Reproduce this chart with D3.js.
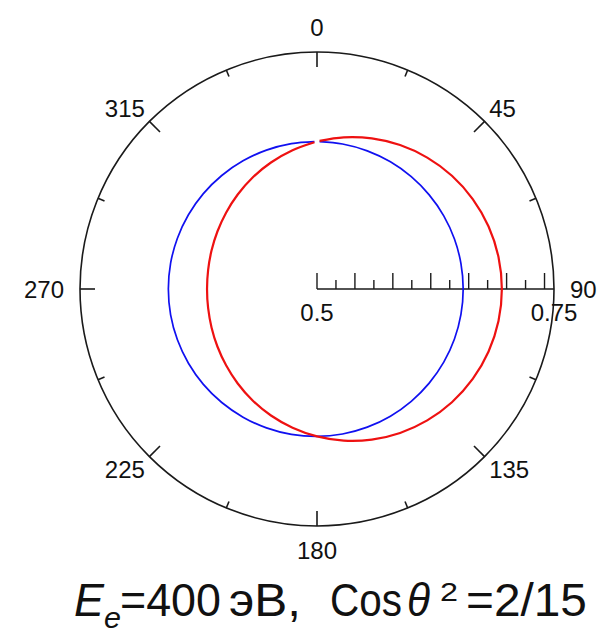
<!DOCTYPE html>
<html>
<head>
<meta charset="utf-8">
<script src="https://cdn.jsdelivr.net/npm/d3@7"></script>
<style>
  html, body { margin: 0; padding: 0; background: #fff; }
  svg { display: block; }
  text { font-family: "Liberation Sans", Arial, sans-serif; fill: #111; }
</style>
</head>
<body>
<svg id="chart" width="605" height="633"></svg>
<script>
// Polar angles in degrees (clockwise from the top)
const angles = [1, 10, 20, 30, 40, 50, 60, 70, 80, 90, 100, 110, 120, 130, 140, 150, 160, 170, 180,
                190, 200, 210, 220, 230, 240, 250, 260, 270, 280, 290, 300, 310, 320, 330, 340, 350, 359];

// Blue series
const blueValues = [0.6555, 0.6553, 0.6551, 0.6549, 0.6547, 0.6545, 0.6544, 0.6543, 0.6542, 0.6542,
                    0.6542, 0.6543, 0.6544, 0.6545, 0.6547, 0.6549, 0.6551, 0.6553, 0.6555,
                    0.6557, 0.6559, 0.6561, 0.6563, 0.6565, 0.6566, 0.6567, 0.6568, 0.6568,
                    0.6568, 0.6567, 0.6566, 0.6565, 0.6563, 0.6561, 0.6559, 0.6557, 0.6555];

// Red series
const redValues = [0.6562, 0.6624, 0.6690, 0.6753, 0.6809, 0.6858, 0.6897, 0.6926, 0.6944, 0.6950,
                   0.6944, 0.6926, 0.6897, 0.6858, 0.6809, 0.6753, 0.6690, 0.6624, 0.6555,
                   0.6486, 0.6420, 0.6358, 0.6301, 0.6252, 0.6213, 0.6184, 0.6166, 0.6160,
                   0.6166, 0.6184, 0.6213, 0.6252, 0.6301, 0.6358, 0.6420, 0.6486, 0.6548];

// Angular axis
const angleTicks = [0, 45, 90, 135, 180, 225, 270, 315];
const angleMinorTicks = [22.5, 67.5, 112.5, 157.5, 202.5, 247.5, 292.5, 337.5];
const angleTickLabels = ["0", "45", "90", "135", "180", "225", "270", "315"];

// Radial axis
const radialDomain = [0.5, 0.75];
const radialTickLabels = [{ v: 0.5, text: "0.5" }, { v: 0.75, text: "0.75" }];

const svg = d3.select("#chart");
const cx = 317, cy = 289, R = 237;

const r = d3.scaleLinear().domain(radialDomain).range([0, R]);
const a = d3.scaleLinear().domain([0, 360]).range([0, 2 * Math.PI]);

const g = svg.append("g").attr("transform", `translate(${cx},${cy})`);

const ink = "#1a1a1a";

// outer ring
g.append("circle").attr("r", R).attr("fill", "none").attr("stroke", ink).attr("stroke-width", 1.6);

const dir = deg => [Math.sin(a(deg)), -Math.cos(a(deg))];

// angular ticks (inward)
angleTicks.filter(d => d !== 90).forEach(d => {
  const [sx, sy] = dir(d);
  g.append("line")
    .attr("x1", sx * R).attr("y1", sy * R)
    .attr("x2", sx * (R - 15)).attr("y2", sy * (R - 15))
    .attr("stroke", ink).attr("stroke-width", 1.6);
});
angleMinorTicks.forEach(d => {
  const [sx, sy] = dir(d);
  g.append("line")
    .attr("x1", sx * R).attr("y1", sy * R)
    .attr("x2", sx * (R - 7)).attr("y2", sy * (R - 7))
    .attr("stroke", ink).attr("stroke-width", 1.6);
});

// angular labels
const labelSize = 24, capH = 0.716 * labelSize;
angleTicks.forEach((d, i) => {
  const [sx, sy] = dir(d);
  const off = 16 - 9.5 * Math.abs(Math.sin(2 * a(d)));
  const ax = sx * (R + off), ay = sy * (R + off);
  const anchor = sx > 0.3 ? "start" : sx < -0.3 ? "end" : "middle";
  let by;
  if (sy < -0.3) by = ay;
  else if (sy > 0.3) by = ay + capH;
  else by = ay + capH / 2;
  g.append("text")
    .attr("x", ax).attr("y", by)
    .attr("text-anchor", anchor)
    .attr("font-size", labelSize)
    .text(angleTickLabels[i]);
});

// radial axis along 90°
g.append("line").attr("x1", 0).attr("y1", 0).attr("x2", R).attr("y2", 0)
  .attr("stroke", ink).attr("stroke-width", 1.6);
const rTicks = r.ticks(10);
rTicks.forEach((t, i) => {
  const major = i % 2 === 0;
  g.append("line")
    .attr("x1", r(t)).attr("x2", r(t))
    .attr("y1", 0).attr("y2", major ? -16 : -9)
    .attr("stroke", ink).attr("stroke-width", 1.4);
});
radialTickLabels.forEach(d => {
  g.append("text")
    .attr("x", r(d.v)).attr("y", 31.5)
    .attr("text-anchor", "middle")
    .attr("font-size", labelSize)
    .text(d.text);
});

// series curves
const line = d3.lineRadial()
  .angle(d => a(d[0]))
  .radius(d => r(d[1]))
  .curve(d3.curveCatmullRom);

g.append("path")
  .datum(angles.map((t, i) => [t, blueValues[i]]))
  .attr("d", line)
  .attr("fill", "none").attr("stroke", "#1010f0").attr("stroke-width", 1.7);

g.append("path")
  .datum(angles.map((t, i) => [t, redValues[i]]))
  .attr("d", line)
  .attr("fill", "none").attr("stroke", "#ee1111").attr("stroke-width", 2.2);

// caption: E_e=400 эВ, Cosθ²=2/15 — each piece squeezed horizontally to its width
const capText = svg.append("g").attr("font-size", 46);
const seg = (x, y, str, len, extra) => {
  const t = capText.append("text").attr("x", 0).attr("y", 0).text(str);
  if (extra) extra(t);
  const natural = t.node().getComputedTextLength();
  t.attr("transform", `translate(${x},${y}) scale(${len / natural},1)`);
  return t;
};
seg(74, 616, "E", 30, t => t.attr("font-style", "italic"));
seg(104, 628, "e", 17, t => t.attr("font-style", "italic").attr("font-size", 29));
seg(120, 616, "=400", 101);
seg(229, 616, "эВ,", 72);
seg(330, 616, "Cos", 72);
seg(407, 616, "θ", 23, t => t
  .attr("font-family", "'Liberation Serif', 'DejaVu Serif', serif")
  .attr("font-style", "italic"));
seg(440, 601, "2", 18, t => t.attr("font-size", 25));
seg(466, 616, "=2/15", 121);
</script>
</body>
</html>
